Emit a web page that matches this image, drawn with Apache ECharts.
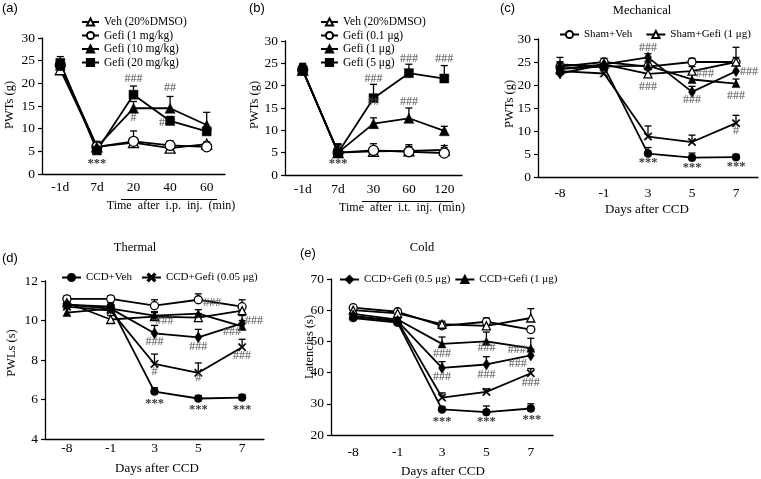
<!DOCTYPE html>
<html><head><meta charset="utf-8">
<script src="https://cdn.jsdelivr.net/npm/echarts@6/dist/echarts.min.js"></script>
<style>html,body{margin:0;padding:0;background:#fff}#c{width:761px;height:479px}</style>
</head><body><div id="c"></div>
<script>
// ---------- categories ----------
const catsA = ['-1d', '7d', '20', '40', '60'];
const catsB = ['-1d', '7d', '30', '60', '120'];
const catsDays = ['-8', '-1', '3', '5', '7'];

// ---------- series names ----------
const namesA = ['Veh (20%DMSO)', 'Gefi (1 mg/kg)', 'Gefi (10 mg/kg)', 'Gefi (20 mg/kg)'];
const namesB = ['Veh (20%DMSO)', 'Gefi (0.1 μg)', 'Gefi (1 μg)', 'Gefi (5 μg)'];
const namesCCD = ['Sham+Veh', 'Sham+Gefi (1 μg)', 'CCD+Veh', 'CCD+Gefi (0.05 μg)', 'CCD+Gefi (0.5 μg)', 'CCD+Gefi (1 μg)'];

// ---------- panel (a) PWTs (g) ----------
const aVeh = [23, 6, 6.9, 5.7, 6.6];        const aVehErr = [0.8, 0.8, 0.8, 0.6, 0.5];
const aGefi1 = [24, 6, 7.2, 6.3, 6.0];      const aGefi1Err = [1.0, 1.2, 2.3, 1.0, 0.7];
const aGefi10 = [24, 6, 14.5, 14.5, 10.8];  const aGefi10Err = [1.0, 1.0, 1.5, 2.6, 2.8];
const aGefi20 = [24.5, 5.2, 17.5, 11.7, 9.4]; const aGefi20Err = [1.4, 1.5, 1.9, 1.0, 1.0];

// ---------- panel (b) PWTs (g) ----------
const bVeh = [23.5, 5, 5.3, 5.4, 5.6];      const bVehErr = [1, 1, 1, 1, 1];
const bGefi01 = [23.5, 5, 5.5, 5.2, 4.9];   const bGefi01Err = [1.2, 1.5, 1.5, 1.6, 1.2];
const bGefi1 = [23.5, 5, 11.5, 12.7, 9.9];  const bGefi1Err = [1.2, 1.8, 1.3, 2.3, 1.0];
const bGefi5 = [23.5, 5, 17.2, 22.8, 21.6]; const bGefi5Err = [1.5, 2, 3.1, 2.0, 2.9];

// ---------- panel (c) Mechanical PWTs (g) ----------
const cShamVeh = [24, 25, 24, 25, 25];          const cShamVehErr = [1, 0.8, 1, 0.8, 3.2];
const cShamGefi = [23.5, 24.5, 22.4, 23, 25];   const cShamGefiErr = [1, 0.8, 1, 1, 1];
const cCCDVeh = [23.5, 24, 5.1, 4.2, 4.3];      const cCCDVehErr = [1.5, 1, 1.3, 1, 0.6];
const cGefi005 = [23, 22.5, 8.8, 7.6, 11.7];    const cGefi005Err = [1.5, 1, 2.3, 1.5, 1.7];
const cGefi05 = [22.5, 24.5, 26, 18.5, 23];     const cGefi05Err = [1, 0.8, 0.8, 1.2, 1.5];
const cGefi1 = [24.5, 24, 24.2, 21.2, 20.3];    const cGefi1Err = [1.5, 1, 1, 1.2, 1];

// ---------- panel (d) Thermal PWLs (s) ----------
const dShamVeh = [11.1, 11.1, 10.75, 11.05, 10.7];  const dShamVehErr = [0.15, 0.15, 0.3, 0.3, 0.35];
const dShamGefi = [10.9, 10.05, 10.2, 10.15, 10.5]; const dShamGefiErr = [0.2, 0.2, 0.2, 0.2, 0.2];
const dCCDVeh = [10.8, 10.7, 6.4, 6.05, 6.1];       const dCCDVehErr = [0.2, 0.2, 0.2, 0.15, 0.15];
const dGefi005 = [10.7, 10.5, 7.8, 7.35, 8.65];     const dGefi005Err = [0.2, 0.2, 0.5, 0.5, 0.4];
const dGefi05 = [10.8, 10.6, 9.35, 9.15, 9.85];     const dGefi05Err = [0.2, 0.2, 0.4, 0.4, 0.4];
const dGefi1 = [10.4, 10.6, 10.25, 10.35, 9.7];     const dGefi1Err = [0.2, 0.2, 0.2, 0.2, 0.3];

// ---------- panel (e) Cold Latencies (s) ----------
const eShamVeh = [60.8, 59.5, 55, 56.3, 53.8];  const eShamVehErr = [0.8, 0.8, 1, 1.2, 1];
const eShamGefi = [60, 59, 55.5, 55, 57.5];     const eShamGefiErr = [0.8, 0.8, 1, 1.5, 3];
const eCCDVeh = [57.5, 56, 28.2, 27.3, 28.5];   const eCCDVehErr = [1, 1, 0.8, 2, 1.5];
const eGefi005 = [58, 56.5, 32, 33.8, 39.8];    const eGefi005Err = [1, 1, 1.5, 1, 1.5];
const eGefi05 = [58.2, 56.5, 41.5, 42.6, 45.5]; const eGefi05Err = [1, 1, 2, 2.5, 2];
const eGefi1 = [58.8, 57, 49.2, 50, 47.8];      const eGefi1Err = [1, 1, 2.2, 3, 3.2];

// ---------- significance annotations [category index, value, text, dx] ----------
const annA = [[1, 2.3, '***', 0], [2, 21, '###', 0], [2, 12.3, '#', 0], [3, 19, '##', 0], [3, 11.3, '#', -8]];
const annB = [[1, 2.5, '***', 0], [2, 21.5, '###', 0], [2, 16.3, '##', 0], [3, 26, '###', 0], [3, 16.3, '###', 0], [4, 26, '###', 0]];
const annC = [[2, 28.1, '###', 0], [2, 19.5, '###', 0], [2, 3.0, '***', 0], [3, 22.4, '###', 13], [3, 16.7, '###', 0],
              [3, 2.1, '***', 0], [4, 22.9, '###', 13], [4, 17.6, '###', 0], [4, 10, '#', 0], [4, 2.3, '***', 0]];
const annD = [[2, 10.0, '###', 10], [2, 8.93, '###', 0], [2, 7.4, '#', 0], [2, 5.8, '***', 0], [3, 10.9, '###', 14],
              [3, 8.64, '###', 0], [3, 7.1, '#', 0], [3, 5.5, '***', 0], [4, 9.99, '###', 12], [4, 9.43, '###', -10],
              [4, 8.2, '###', 0], [4, 5.5, '***', 0]];
const annE = [[2, 46, '###', 0], [2, 38.5, '###', 0], [2, 24.4, '***', 0], [3, 47.8, '###', 0], [3, 39.3, '###', 0],
              [3, 24.1, '***', 0], [4, 47.2, '###', -14], [4, 42.8, '###', -13], [4, 36.8, '###', 0], [4, 25, '***', 1]];

// ---------- styles ----------
const SERIF = 'Liberation Serif';
const xPath = 'path://M0,1.2L1.2,0L5,3.8L8.8,0L10,1.2L6.2,5L10,8.8L8.8,10L5,6.2L1.2,10L0,8.8L3.8,5Z';
const marks = {
  openTri: {symbol: 'triangle', fill: '#fff'},
  openCirc: {symbol: 'circle', fill: '#fff'},
  fillTri: {symbol: 'triangle', fill: '#000'},
  fillSq: {symbol: 'rect', fill: '#000'},
  fillCirc: {symbol: 'circle', fill: '#000'},
  xMark: {symbol: xPath, fill: '#000'},
  diamond: {symbol: 'diamond', fill: '#000'}
};

const panels = [
  {cats: catsA, ymin: 0, ymax: 30, yint: 5, size: 10, margin: 6, ann: annA,
   grid: {left: 42, top: 38, width: 183, height: 136},
   lines: [[namesA[0], aVeh, aVehErr, 'openTri'], [namesA[1], aGefi1, aGefi1Err, 'openCirc'],
           [namesA[2], aGefi10, aGefi10Err, 'fillTri'], [namesA[3], aGefi20, aGefi20Err, 'fillSq']]},
  {cats: catsB, ymin: 0, ymax: 30, yint: 5, size: 10, margin: 7, ann: annB,
   grid: {left: 285, top: 41, width: 177, height: 134},
   lines: [[namesB[0], bVeh, bVehErr, 'openTri'], [namesB[1], bGefi01, bGefi01Err, 'openCirc'],
           [namesB[2], bGefi1, bGefi1Err, 'fillTri'], [namesB[3], bGefi5, bGefi5Err, 'fillSq']]},
  {cats: catsDays, ymin: 0, ymax: 30, yint: 5, size: 8, margin: 9, ann: annC,
   grid: {left: 538, top: 39, width: 220, height: 138},
   lines: [[namesCCD[0], cShamVeh, cShamVehErr, 'openCirc'], [namesCCD[1], cShamGefi, cShamGefiErr, 'openTri'],
           [namesCCD[2], cCCDVeh, cCCDVehErr, 'fillCirc'], [namesCCD[3], cGefi005, cGefi005Err, 'xMark'],
           [namesCCD[4], cGefi05, cGefi05Err, 'diamond'], [namesCCD[5], cGefi1, cGefi1Err, 'fillTri']]},
  {cats: catsDays, ymin: 4, ymax: 12, yint: 2, size: 8, margin: 2, ann: annD,
   grid: {left: 45, top: 281, width: 219, height: 158},
   lines: [[namesCCD[0], dShamVeh, dShamVehErr, 'openCirc'], [namesCCD[1], dShamGefi, dShamGefiErr, 'openTri'],
           [namesCCD[2], dCCDVeh, dCCDVehErr, 'fillCirc'], [namesCCD[3], dGefi005, dGefi005Err, 'xMark'],
           [namesCCD[4], dGefi05, dGefi05Err, 'diamond'], [namesCCD[5], dGefi1, dGefi1Err, 'fillTri']]},
  {cats: catsDays, ymin: 20, ymax: 70, yint: 10, size: 8, margin: 10, ann: annE,
   grid: {left: 331, top: 279, width: 222, height: 156},
   lines: [[namesCCD[0], eShamVeh, eShamVehErr, 'openCirc'], [namesCCD[1], eShamGefi, eShamGefiErr, 'openTri'],
           [namesCCD[2], eCCDVeh, eCCDVehErr, 'fillCirc'], [namesCCD[3], eGefi005, eGefi005Err, 'xMark'],
           [namesCCD[4], eGefi05, eGefi05Err, 'diamond'], [namesCCD[5], eGefi1, eGefi1Err, 'fillTri']]}
];

function errRender(params, api) {
  const x = api.value(0), y = api.value(1), e = api.value(2);
  const p = api.coord([x, y]);
  const t = api.coord([x, y + e]);
  return {type: 'group', children: [
    {type: 'line', shape: {x1: p[0], y1: p[1], x2: p[0], y2: t[1]}, style: {stroke: '#000', lineWidth: 1.3}},
    {type: 'line', shape: {x1: p[0] - 3.5, y1: t[1], x2: p[0] + 3.5, y2: t[1]}, style: {stroke: '#000', lineWidth: 1.3}}
  ]};
}

const grid = [], xAxis = [], yAxis = [], series = [];
panels.forEach((P, gi) => {
  grid.push(Object.assign({containLabel: false}, P.grid));
  xAxis.push({type: 'category', gridIndex: gi, data: P.cats, boundaryGap: true,
    axisLine: {lineStyle: {color: '#000', width: 1.3}},
    axisTick: {alignWithLabel: true, length: 4, lineStyle: {color: '#000', width: 1.2}},
    axisLabel: {color: '#000', fontFamily: SERIF, fontSize: 13.5, margin: P.margin, interval: 0}});
  yAxis.push({type: 'value', gridIndex: gi, min: P.ymin, max: P.ymax, interval: P.yint,
    splitLine: {show: false},
    axisLine: {show: true, lineStyle: {color: '#000', width: 1.3}},
    axisTick: {show: true, length: 4, lineStyle: {color: '#000', width: 1.2}},
    axisLabel: {color: '#000', fontFamily: SERIF, fontSize: 13.5, margin: 7}});
  const errRows = [];
  P.lines.forEach(([name, vals, errs, mk]) => {
    const m = marks[mk];
    let size = P.size;
    if (mk === 'diamond') size = [P.size - 1, P.size + 3];
    if (mk === 'fillSq') size = P.size - 1;
    series.push({type: 'line', name, xAxisIndex: gi, yAxisIndex: gi, data: vals,
      symbol: m.symbol, symbolSize: size, showSymbol: true, z: 3,
      lineStyle: {color: '#000', width: 1.8},
      itemStyle: {color: m.fill, borderColor: '#000', borderWidth: m.fill === '#fff' ? 1.3 : 0.5, opacity: 1}});
    vals.forEach((v, i) => errRows.push([i, v, errs[i]]));
  });
  series.push({type: 'custom', xAxisIndex: gi, yAxisIndex: gi, renderItem: errRender, data: errRows, z: 2, silent: true});
  series.push({type: 'scatter', xAxisIndex: gi, yAxisIndex: gi, symbolSize: 1, z: 4, silent: true,
    itemStyle: {color: 'transparent'},
    data: P.ann.map(([x, y, t, dx]) => ({value: [x, y], name: t,
      label: {offset: [dx, 0], color: t[0] === '*' ? '#000' : '#555', fontSize: t[0] === '*' ? 12.5 : 12}})),
    label: {show: true, position: 'inside', formatter: '{b}', fontFamily: SERIF, fontSize: 12, fontWeight: 'bold'}});
});

const legA = {fontFamily: SERIF, fontSize: 11.5, color: '#000'};
const legC = {fontFamily: SERIF, fontSize: 11, color: '#000'};
const legend = [
  {data: namesA, orient: 'vertical', left: 81, top: 16, itemWidth: 17, itemHeight: 9, itemGap: 1.5, textStyle: legA, selectedMode: false, padding: 0},
  {data: namesB, orient: 'vertical', left: 320, top: 16, itemWidth: 17, itemHeight: 9, itemGap: 1.5, textStyle: legA, selectedMode: false, padding: 0},
  {data: namesCCD.slice(0, 2), orient: 'horizontal', left: 559, top: 29, itemWidth: 19, itemHeight: 9, itemGap: 13, textStyle: legC, selectedMode: false, padding: 0},
  {data: namesCCD.slice(2, 4), orient: 'horizontal', left: 61, top: 272, itemWidth: 19, itemHeight: 9, itemGap: 9, textStyle: legC, selectedMode: false, padding: 0},
  {data: namesCCD.slice(4, 6), orient: 'horizontal', left: 339, top: 274, itemWidth: 19, itemHeight: 9, itemGap: 4, textStyle: legC, selectedMode: false, padding: 0}
];

function txt(x, y, text, size, opts) {
  opts = opts || {};
  return {type: 'text', x, y, rotation: opts.rot || 0, silent: true,
    style: {text, font: (opts.weight || 'normal') + ' ' + size + 'px "' + (opts.family || SERIF) + '"', fill: '#000',
      align: opts.align || 'center', verticalAlign: 'middle'}};
}
const graphic = [
  txt(2, 8, '(a)', 13, {align: 'left', family: 'Liberation Sans'}),
  txt(249, 8, '(b)', 13, {align: 'left', family: 'Liberation Sans'}),
  txt(500, 8, '(c)', 13, {align: 'left', family: 'Liberation Sans'}),
  txt(2, 258, '(d)', 13, {align: 'left', family: 'Liberation Sans'}),
  txt(300, 253, '(e)', 13, {align: 'left', family: 'Liberation Sans'}),
  txt(642, 11, 'Mechanical', 12.5),
  txt(135, 248, 'Thermal', 12.5),
  txt(422, 248, 'Cold', 12.5),
  txt(171, 206, 'Time  after  i.p.  inj.  (min)', 12),
  txt(402, 208, 'Time  after  i.t.  inj.  (min)', 12),
  txt(647, 210, 'Days after CCD', 13),
  txt(157, 469, 'Days after CCD', 13),
  txt(443, 472, 'Days after CCD', 13),
  txt(10, 105, 'PWTs (g)', 12.5, {rot: Math.PI / 2}),
  txt(255, 105, 'PWTs (g)', 12.5, {rot: Math.PI / 2}),
  txt(510, 104, 'PWTs (g)', 12.5, {rot: Math.PI / 2}),
  txt(12, 353, 'PWLs (s)', 12.5, {rot: Math.PI / 2}),
  txt(310, 347, 'Latencies (s)', 12.5, {rot: Math.PI / 2}),
  {type: 'line', silent: true, shape: {x1: 121, y1: 199.5, x2: 217, y2: 199.5}, style: {stroke: '#000', lineWidth: 1}},
  {type: 'line', silent: true, shape: {x1: 362, y1: 201.5, x2: 453, y2: 201.5}, style: {stroke: '#000', lineWidth: 1}}
];

const chart = echarts.init(document.getElementById('c'), null, {renderer: 'canvas'});
chart.setOption({animation: false, backgroundColor: '#fff', grid, xAxis, yAxis, series, legend, graphic});
</script></body></html>
